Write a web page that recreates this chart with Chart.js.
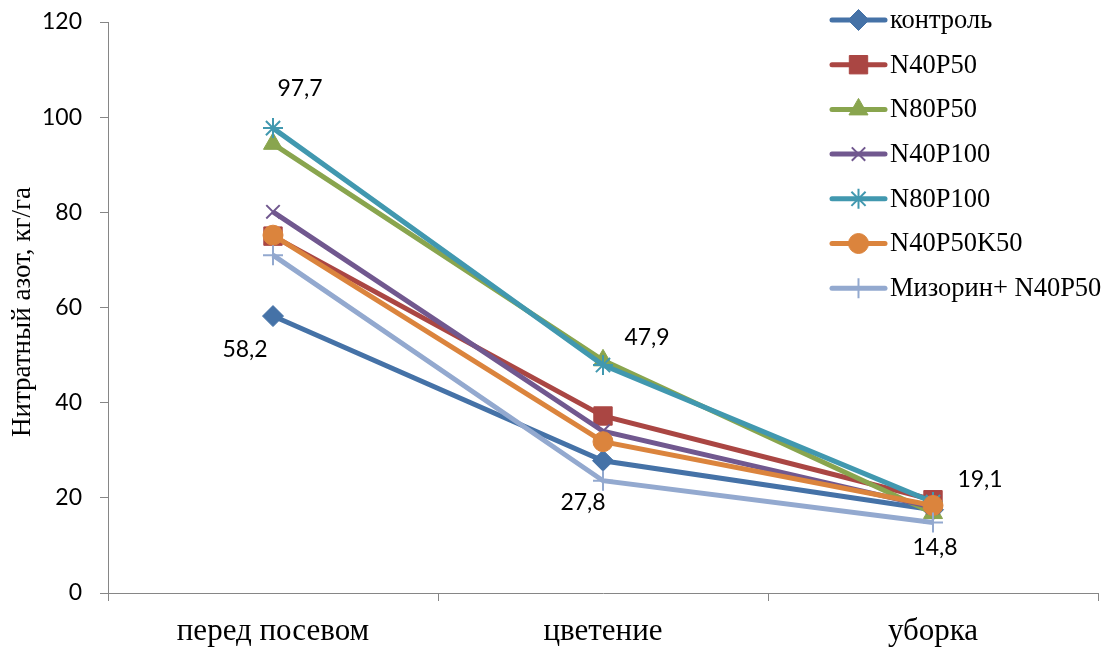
<!DOCTYPE html>
<html>
<head>
<meta charset="utf-8">
<script src="https://cdn.jsdelivr.net/npm/chart.js@4/dist/chart.umd.min.js"></script>
<style>
html,body{margin:0;padding:0;background:#fff;}
#wrap{width:1120px;height:650px;position:relative;}
</style>
</head>
<body>
<div id="wrap"><canvas id="c" width="1120" height="650"></canvas></div>
<script>
const categories = ['перед посевом', 'цветение', 'уборка'];
const seriesNames = ['контроль', 'N40P50', 'N80P50', 'N40P100', 'N80P100', 'N40P50K50', 'Мизорин+ N40P50'];
const kontrol    = [58.2, 27.8, 17.5];
const n40p50     = [75.0, 37.2, 19.6];
const n80p50     = [94.4, 48.9, 16.8];
const n40p100    = [80.1, 34.0, 18.0];
const n80p100    = [97.7, 47.9, 19.1];
const n40p50k50  = [75.2, 31.8, 18.4];
const mizorin    = [71.0, 23.6, 14.8];
const yTicks = [0, 20, 40, 60, 80, 100, 120];
const yTitle = 'Нитратный азот, кг/га';
// data labels: [series index, category index, text]
const dataLabels = [
  [4, 0, '97,7'],
  [0, 0, '58,2'],
  [4, 1, '47,9'],
  [0, 1, '27,8'],
  [4, 2, '19,1'],
  [6, 2, '14,8']
];
// label offsets (style)
const labelOffsets = [[27,-40],[-28,34],[44,-27],[-20,42],[47,-23],[2,25]];

const values = [kontrol, n40p50, n80p50, n40p100, n80p100, n40p50k50, mizorin];
const colors = ['#4572A7', '#AA4643', '#89A54E', '#71588F', '#4198AF', '#DB843D', '#93A9CF'];
const styles = ['rectRot', 'rect', 'triangle', 'crossRot', 'star', 'circle', 'cross'];
const radii  = [10.5, 13, 11, 9.5, 10, 10, 10];
const pbw    = [1, 1, 1, 2, 2, 1, 2];

const datasets = values.map((v, i) => ({
  label: seriesNames[i],
  data: v,
  borderColor: colors[i],
  backgroundColor: colors[i],
  pointBackgroundColor: colors[i],
  pointBorderColor: colors[i],
  pointStyle: styles[i],
  pointRadius: radii[i],
  pointBorderWidth: pbw[i],
  borderWidth: 5,
  tension: 0,
  order: 6 - i
}));

const serif = '"Liberation Serif","Times New Roman",serif';
const sans = 'Lato, "Open Sans", sans-serif';

const overlay = {
  id: 'overlay',
  afterDraw(chart) {
    const ctx = chart.ctx;
    const xs = chart.scales.x, ys = chart.scales.y;
    ctx.save();
    // data labels
    ctx.font = '23px ' + sans;
    ctx.fillStyle = '#000';
    ctx.textAlign = 'center';
    ctx.textBaseline = 'middle';
    dataLabels.forEach((d, k) => {
      const px = xs.getPixelForValue(d[1]);
      const py = ys.getPixelForValue(values[d[0]][d[1]]);
      ctx.fillText(d[2], px + labelOffsets[k][0], py + labelOffsets[k][1]);
    });
    // y title
    ctx.save();
    ctx.translate(23, 312);
    ctx.rotate(-Math.PI / 2);
    ctx.font = '27px ' + serif;
    ctx.fillText(yTitle, 0, 0);
    ctx.restore();
    // legend
    const lx0 = 832, lx1 = 885, top = 20, step = 44.7;
    ctx.textAlign = 'left';
    ctx.font = '26.5px ' + serif;
    seriesNames.forEach((n, i) => {
      const y = top + i * step;
      ctx.strokeStyle = colors[i];
      ctx.lineWidth = 5;
      ctx.lineCap = 'round';
      ctx.beginPath(); ctx.moveTo(lx0, y); ctx.lineTo(lx1, y); ctx.stroke();
      ctx.fillStyle = colors[i];
      ctx.strokeStyle = colors[i];
      ctx.lineWidth = pbw[i];
      ctx.lineCap = 'butt';
      if (Chart.helpers && Chart.helpers.drawPoint) {
        Chart.helpers.drawPoint(ctx, {pointStyle: styles[i], radius: radii[i], rotation: 0, borderWidth: pbw[i]}, (lx0 + lx1) / 2, y);
      }
      ctx.fillStyle = '#000';
      ctx.fillText(n, 890, y + 1);
    });
    ctx.restore();
  }
};

new Chart(document.getElementById('c'), {
  type: 'line',
  data: { labels: categories, datasets },
  options: {
    responsive: false,
    animation: false,
    layout: { padding: { top: 22, right: 22, left: 0, bottom: 0 } },
    plugins: { legend: { display: false }, tooltip: { enabled: false } },
    scales: {
      x: {
        offset: true,
        grid: { display: true, drawOnChartArea: false, offset: true, tickLength: 8, color: '#868686', lineWidth: 1 },
        border: { color: '#868686', width: 1 },
        ticks: { color: '#000', font: { family: serif, size: 31 }, padding: 12 },
        afterFit(s) { s.height = 57; s.paddingLeft = 0; s.paddingRight = 0; }
      },
      y: {
        min: 0, max: 120,
        afterBuildTicks(s) { s.ticks = yTicks.map(v => ({ value: v })); },
        grid: { display: true, drawOnChartArea: false, tickLength: 8, color: '#868686', lineWidth: 1 },
        border: { color: '#868686', width: 1 },
        ticks: { color: '#000', font: { family: sans, size: 23 }, padding: 18 },
        afterFit(s) { s.width = 108; s.paddingTop = 0; s.paddingBottom = 0; }
      }
    }
  },
  plugins: [overlay]
});
</script>
</body>
</html>
